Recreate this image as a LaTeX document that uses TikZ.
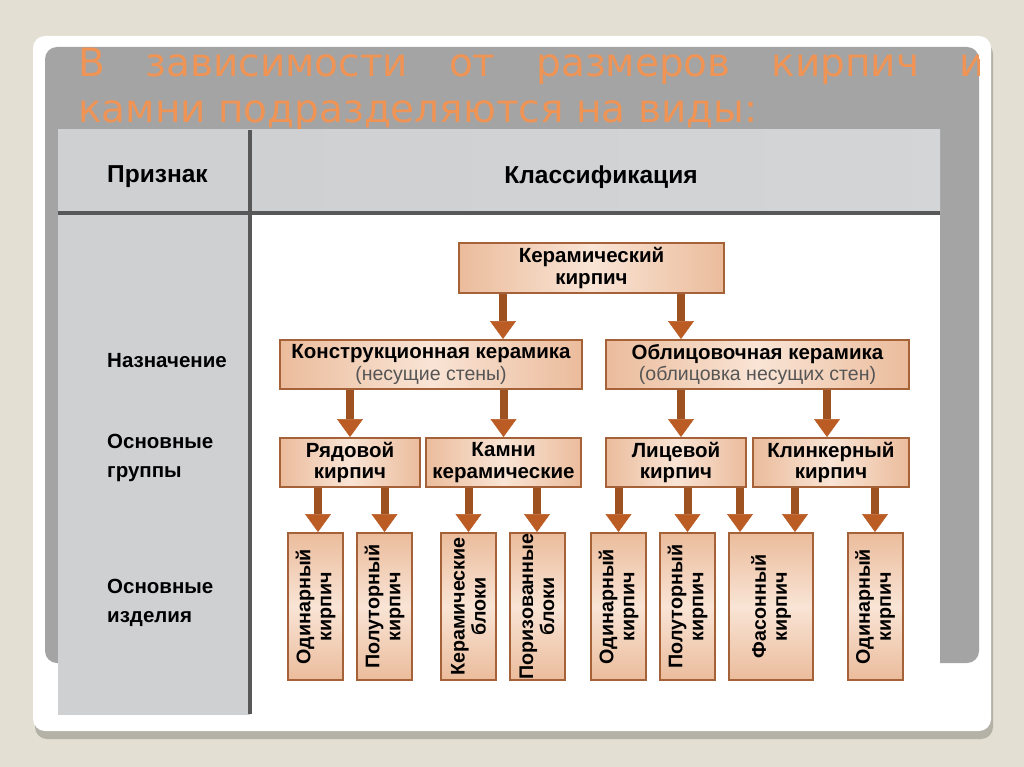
\documentclass[tikz,border=0pt]{standalone}
\usepackage{fontspec}
\setmainfont{Liberation Sans}
\newfontfamily\titlefont{DejaVu Sans}
\usetikzlibrary{arrows.meta}
\definecolor{bg}{RGB}{227,223,211}
\definecolor{shadowc}{RGB}{180,177,166}
\definecolor{ttl}{RGB}{240,148,86}
\definecolor{boxl}{RGB}{249,228,213}
\definecolor{boxd}{RGB}{235,188,156}
\definecolor{boxb}{RGB}{165,98,56}
\definecolor{arrc}{RGB}{158,82,34}
\definecolor{headc}{RGB}{186,92,36}
\definecolor{divc}{RGB}{88,88,88}
\definecolor{subc}{RGB}{85,85,85}
\definecolor{pgray}{RGB}{164,164,164}
\definecolor{plight}{RGB}{224,224,224}
\definecolor{hgray}{RGB}{206,208,210}
\definecolor{hlight}{RGB}{232,234,235}
\newcommand\bxfont{\fontsize{20.5}{21.5}\selectfont\bfseries}
\newcommand\vbxfont{\fontsize{19.7}{21}\selectfont\bfseries}
\newcommand\lblfont{\fontsize{20.5}{29}\selectfont\bfseries}
\newcommand\hdfont{\fontsize{24.5}{26}\selectfont\bfseries}
\newcommand\subtxt{\fontsize{19.5}{21.5}\selectfont\mdseries\color{subc}}
\begin{document}
\begin{tikzpicture}[x=1pt,y=-1pt,
  box/.style={draw=boxb,line width=2pt,left color=boxd,right color=boxd,middle color=boxl,
    font=\bxfont,align=center,inner sep=0pt},
  vbox/.style={draw=boxb,line width=2pt,top color=boxd,bottom color=boxd,middle color=boxl,
    font=\vbxfont,align=center,inner sep=0pt,rotate=90,minimum width=147pt,minimum height=55pt},
  arr/.style={draw=arrc,line width=8pt,-{Triangle[width=26pt,length=18pt,line width=0.5pt,color=headc]}},
  lbl/.style={font=\lblfont,align=left,anchor=west,inner sep=0pt},
  hd/.style={font=\hdfont,inner sep=0pt}]
\useasboundingbox (0,0) rectangle (1024,767);
% background
\fill[bg] (0,0) rectangle (1024,767);
\fill[shadowc,rounded corners=12pt] (35,42) rectangle (993,739);
\fill[white,rounded corners=12pt] (33,36) rectangle (991,731);
% gray panel
\shade[rounded corners=12pt,left color=pgray,middle color=plight,right color=pgray] (45,47) rectangle (979,663);
% title
\begin{scope}
\clip[rounded corners=12pt] (45,47) rectangle (979,663);
\node[anchor=base west,inner sep=0pt,text=ttl,font=\titlefont\fontsize{39}{46}\selectfont] (t1) at (78,77)
  {\makebox[907pt][s]{В зависимости от размеров кирпич и}};
\node[anchor=base west,inner sep=0pt,text=ttl,font=\titlefont\fontsize{39}{46}\selectfont] (t2) at (78,123)
  {камни подразделяются на виды:};
\end{scope}
% table background
\shade[left color=hgray,middle color=hlight,right color=hgray] (58,130) rectangle (250,714);
\shade[left color=hgray,middle color=hlight,right color=hgray!90!white] (250,130) rectangle (940,213);
\fill[white] (252,215) rectangle (940,714);
\draw[divc,line width=3.5pt] (250,130) -- (250,714);
\draw[divc,line width=3.5pt] (58,213) -- (940,213);
% headers and row labels
\node[hd,anchor=west] (h1) at (107,177) {Признак};
\node[hd] (h2) at (601,177) {Классификация};
\node[lbl] (l1) at (107,361) {Назначение};
\node[lbl] (l2) at (107,458) {Основные\\группы};
\node[lbl] (l3) at (107,603) {Основные\\изделия};
% level 1
\node[box,minimum width=265pt,minimum height=50pt] (ker) at (591.5,268) {Керамический\\кирпич};
% level 2
\node[box,minimum width=302pt,minimum height=49pt] (kon) at (431,364.5)
  {Конструкционная керамика\\{\subtxt (несущие стены)}};
\node[box,minimum width=303pt,minimum height=49pt] (obl) at (757.5,364.5)
  {Облицовочная керамика\\{\subtxt (облицовка несущих стен)}};
% level 3
\node[box,minimum width=140pt,minimum height=49pt] (ryad) at (350,462.5) {Рядовой\\кирпич};
\node[box,minimum width=155pt,minimum height=49pt] (kam) at (503.5,462.5) {Камни\\керамические};
\node[box,minimum width=140pt,minimum height=49pt] (lic) at (676,462.5) {Лицевой\\кирпич};
\node[box,minimum width=156pt,minimum height=49pt] (klin) at (831,462.5) {Клинкерный\\кирпич};
% level 4
\node[vbox] (v1) at (315.5,606.5) {Одинарный\\кирпич};
\node[vbox] (v2) at (384.5,606.5) {Полуторный\\кирпич};
\node[vbox] (v3) at (468.5,606.5) {Керамические\\блоки};
\node[vbox] (v4) at (537,606.5) {Поризованные\\блоки};
\node[vbox] (v5) at (618.5,606.5) {Одинарный\\кирпич};
\node[vbox] (v6) at (687.5,606.5) {Полуторный\\кирпич};
\node[vbox,minimum height=84pt] (v7) at (771,606.5) {Фасонный\\кирпич};
\node[vbox] (v8) at (875,606.5) {Одинарный\\кирпич};
% arrows
\draw[arr] (ker.south -| 503,0) -- (kon.north -| 503,0);
\draw[arr] (ker.south -| 681,0) -- (obl.north -| 681,0);
\draw[arr] (kon.south -| ryad.north) -- (ryad.north);
\draw[arr] (kon.south -| kam.north) -- (kam.north);
\draw[arr] (obl.south -| 681,0) -- (lic.north -| 681,0);
\draw[arr] (obl.south -| 827,0) -- (klin.north -| 827,0);
\draw[arr] (ryad.south -| 318,0) -- (v1.east -| 318,0);
\draw[arr] (ryad.south -| v2.east) -- (v2.east);
\draw[arr] (kam.south -| v3.east) -- (v3.east);
\draw[arr] (kam.south -| v4.east) -- (v4.east);
\draw[arr] (lic.south -| v5.east) -- (v5.east);
\draw[arr] (lic.south -| v6.east) -- (v6.east);
\draw[arr] (lic.south -| 740,0) -- (v7.east -| 740,0);
\draw[arr] (klin.south -| 795,0) -- (v7.east -| 795,0);
\draw[arr] (klin.south -| v8.east) -- (v8.east);
\end{tikzpicture}
\end{document}
